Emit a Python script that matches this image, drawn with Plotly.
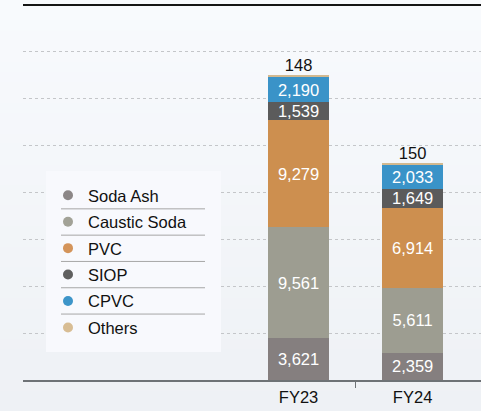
import plotly.graph_objects as go

categories = ["FY23", "FY24"]
series_names = ["Soda Ash", "Caustic Soda", "PVC", "SIOP", "CPVC", "Others"]
soda_ash = [3621, 2359]
caustic_soda = [9561, 5611]
pvc = [9279, 6914]
siop = [1539, 1649]
cpvc = [2190, 2033]
others = [148, 150]
series_values = [soda_ash, caustic_soda, pvc, siop, cpvc, others]

bar_colors = ["#857f7f", "#9d9d91", "#cd8f4f", "#5b5b5b", "#3a93c8", "#d3b98f"]
legend_colors = ["#8c8787", "#a2a297", "#d4945a", "#5f5f5f", "#3d95c9", "#d8bd94"]

W, H = 481, 411
ML, MR, MT, MB = 23, 0, 5, 31
PW, PH = W - ML - MR, H - MT - MB

def px_x(px):
    return (px - ML) / PW

def px_y(py):
    return (H - MB - py) / PH

FONT = "Liberation Sans, Arial, sans-serif"
xs = list(range(len(categories)))
totals = [sum(v[i] for v in series_values) for i in range(len(categories))]

fig = go.Figure()
for i, (name, vals) in enumerate(zip(series_names, series_values)):
    last = i == len(series_names) - 1
    fig.add_trace(go.Bar(
        x=xs, y=vals, name=name, marker_color=bar_colors[i], marker_line_width=0,
        width=0.535, texttemplate="" if last else "%{y:,}",
        textposition="none" if last else "inside",
        insidetextanchor="middle",
        textfont=dict(color="white", size=16.5, family=FONT),
        cliponaxis=False, showlegend=False, hoverinfo="skip",
    ))
# labels for the thin top segment, placed at the stack top
fig.add_trace(go.Scatter(
    x=xs, y=totals, mode="text", text=[f"{v:,}" for v in others],
    textposition="top center", textfont=dict(color="#111111", size=16.5, family=FONT),
    showlegend=False, hoverinfo="skip", cliponaxis=False,
))
for i, name in enumerate(series_names):
    fig.add_trace(go.Scatter(
        x=[None], y=[None], mode="markers", name=name, legendgroup=name,
        marker=dict(color=legend_colors[i], size=10, symbol="circle"),
        showlegend=True,
    ))

# background gradient
shapes = []
N = 40
c_top = (248, 250, 253)
c_bot = (238, 241, 245)
y_lo, y_hi = px_y(H), px_y(0)
for k in range(N):
    t = k / (N - 1)
    c = tuple(round(c_bot[j] + (c_top[j] - c_bot[j]) * t) for j in range(3))
    shapes.append(dict(type="rect", xref="paper", yref="paper", layer="below",
                       x0=px_x(0), x1=px_x(W), y0=y_lo + (y_hi - y_lo) * k / N,
                       y1=y_lo + (y_hi - y_lo) * (k + 1) / N + 0.002,
                       fillcolor="rgb(%d,%d,%d)" % c, line_width=0))
# top border
shapes.append(dict(type="line", xref="paper", yref="paper", x0=0, x1=1, y0=1, y1=1,
                   line=dict(color="#151515", width=2)))
# legend box
shapes.append(dict(type="rect", xref="paper", yref="paper", layer="above",
                   x0=px_x(46), x1=px_x(221), y0=px_y(352), y1=px_y(171),
                   fillcolor="#f8f9fd", line_width=0))
item_y0, item_step = 195.7, 26.3
for k in range(len(series_names) - 1):
    yy = item_y0 + item_step * (k + 0.5)
    shapes.append(dict(type="line", xref="paper", yref="paper", layer="above",
                       x0=px_x(61), x1=px_x(205), y0=px_y(yy), y1=px_y(yy),
                       line=dict(color="#a6a6a6", width=1)))

grid_step = 4050
y_max = 32400

fig.update_layout(
    width=W, height=H, margin=dict(l=ML, r=MR, t=MT, b=MB),
    barmode="stack", paper_bgcolor="#f3f5f8", plot_bgcolor="rgba(0,0,0,0)",
    font=dict(family=FONT, size=16.5, color="#111111"),
    shapes=shapes,
    uniformtext=dict(minsize=16.5, mode="show"),
    showlegend=True,
    legend=dict(x=px_x(48), y=px_y(178), xanchor="left", yanchor="top",
                bgcolor="rgba(0,0,0,0)", borderwidth=0, traceorder="grouped",
                tracegroupgap=2, font=dict(size=16.5, family=FONT, color="#111111"),
                itemclick=False),
    xaxis=dict(range=[-2.417, 1.60], tickvals=xs, ticktext=categories, ticks="",
               showgrid=False, zeroline=False, showline=True, linecolor="#6e7276",
               linewidth=1.5, tickfont=dict(size=16.5, color="#111111"),
               ticklabelstandoff=2,
               minor=dict(tickmode="array", tickvals=[0.5], ticks="outside",
                          ticklen=6, tickcolor="#6e7276", tickwidth=1, showgrid=False)),
    yaxis=dict(range=[0, y_max], tickvals=list(range(0, y_max, grid_step)),
               showticklabels=False, showgrid=True, gridcolor="#c4c6c9",
               griddash="dot", gridwidth=1, zeroline=False, ticks=""),
)

fig.write_html("out.html", config={"displayModeBar": False, "staticPlot": True},
               post_script="document.body.style.margin='0';document.body.style.background='#f3f5f8';")
